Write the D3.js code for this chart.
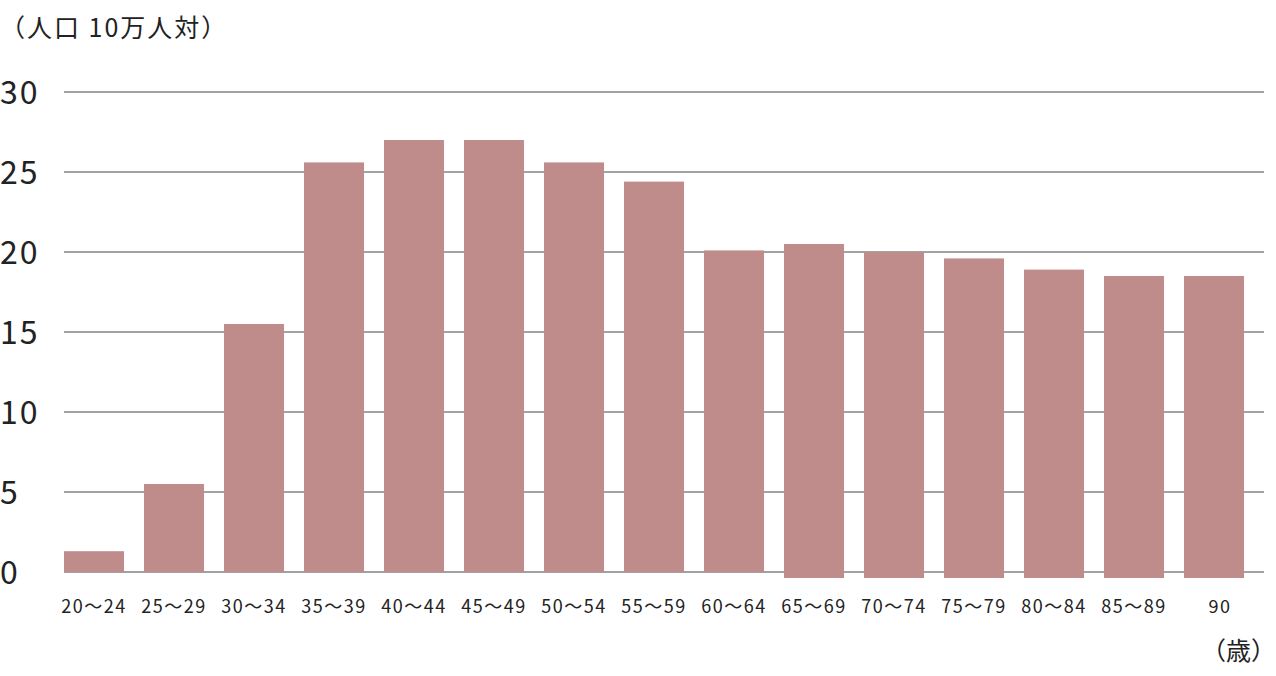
<!DOCTYPE html>
<html><head><meta charset="utf-8">
<script src="https://cdn.jsdelivr.net/npm/d3@7"></script>
<style>body{margin:0;background:#fff}text{font-family:"Noto Sans CJK JP","Noto Sans",sans-serif;fill:#222}</style>
</head><body><svg id="chart" width="1276" height="676"></svg>
<script>
const ageGroups = ["20～24","25～29","30～34","35～39","40～44","45～49","50～54","55～59","60～64","65～69","70～74","75～79","80～84","85～89","90"];
const rates = [1.3, 5.5, 15.5, 25.6, 27, 27, 25.6, 24.4, 20.1, 20.5, 20, 19.6, 18.9, 18.5, 18.5];
const yTicks = [0, 5, 10, 15, 20, 25, 30];

const svg = d3.select("#chart");
const x = d3.scaleBand().domain(ageGroups).range([64, 1264]).padding(0);
const barW = x.bandwidth() * 0.75;
const y = d3.scaleLinear().domain([0, 30]).range([572, 92]);

svg.selectAll("line.grid").data(yTicks).join("line")
    .attr("x1", 64).attr("x2", 1264)
    .attr("y1", d => y(d)).attr("y2", d => y(d))
    .attr("stroke", "#444").attr("stroke-width", 1);
svg.selectAll("text.ytick").data(yTicks).join("text")
    .attr("x", 0).attr("y", d => y(d) + 12)
    .style("font-size", "32px").style("letter-spacing", "2px")
    .text(d => d);

// later groups drawn slightly past the baseline as in the original
svg.selectAll("rect.bar").data(rates).join("rect")
    .attr("x", (d, i) => x(ageGroups[i]))
    .attr("width", barW)
    .attr("y", d => y(d))
    .attr("height", (d, i) => y(0) - y(d) + (i >= 9 ? 6 : 0))
    .attr("fill", "#c08c8b");

svg.selectAll("text.xtick").data(ageGroups).join("text")
    .attr("x", d => x(d) + barW / 2 + (d === "90" ? 6 : 0)).attr("y", 613)
    .attr("text-anchor", "middle").style("font-size", "18px")
    .style("letter-spacing", "1.5px")
    .text(d => d);

svg.append("text").attr("x", 0).attr("y", 37).style("font-size", "25px").style("letter-spacing", "2px").text("（人口 10万人対）");
svg.append("text").attr("x", 1276).attr("y", 660).attr("text-anchor", "end").style("font-size", "25px").text("（歳）");
</script></body></html>
